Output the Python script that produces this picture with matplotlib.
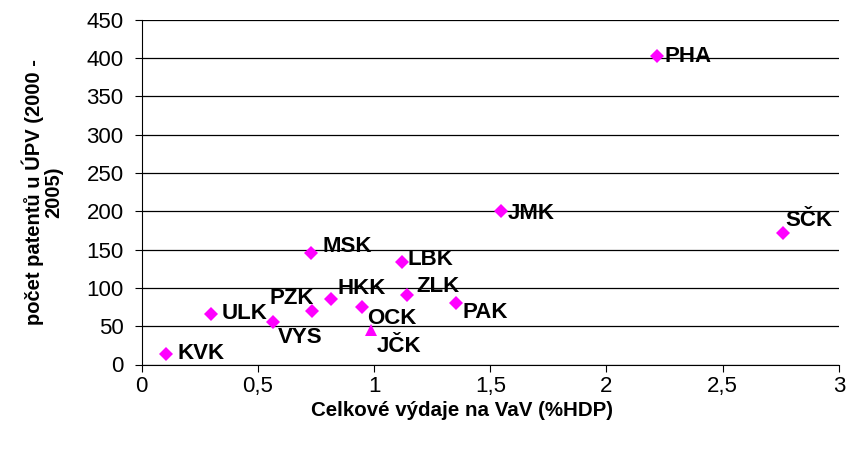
import matplotlib.pyplot as plt
from matplotlib.ticker import FuncFormatter

plt.rcParams['font.family'] = ['Liberation Sans', 'DejaVu Sans']

# regions: R&D spending (% GDP) vs. patents at UPV 2000-2005
regions = ['KVK', 'ULK', 'VYS', 'PZK', 'MSK', 'HKK', 'OCK', 'JČK',
           'LBK', 'ZLK', 'PAK', 'JMK', 'PHA', 'SČK']
vav = [0.104, 0.297, 0.563, 0.734, 0.73, 0.816, 0.948, 0.987,
       1.12, 1.141, 1.351, 1.544, 2.217, 2.76]
patents = [13.5, 66, 55.5, 70, 146, 86, 75, 45,
           134, 91, 80.5, 200, 403, 172]

# label offsets in points (dx, dy, ha)
offsets = {'KVK': (8, 0.5, 'left'), 'ULK': (8, 0, 'left'), 'VYS': (4, -11.5, 'left'),
           'PZK': (1, 9, 'right'), 'MSK': (8, 4.3, 'left'), 'HKK': (4.3, 7, 'left'),
           'OCK': (3.6, -8, 'left'), 'JČK': (4.3, -11.5, 'left'), 'LBK': (3.6, 2, 'left'),
           'ZLK': (6.5, 5.8, 'left'), 'PAK': (5, -7, 'left'), 'JMK': (5, -1.4, 'left'),
           'PHA': (5.8, -0.7, 'left'), 'SČK': (2, 8.6, 'left')}

fig = plt.figure(figsize=(8.49, 4.5), dpi=100)
ax = fig.add_axes([0.167, 0.190, 0.821, 0.766])

for name, x, y in zip(regions, vav, patents):
    m = '^' if name == 'JČK' else 'D'
    ax.plot(x, y, marker=m, color='#ff00ff', markersize=7 if m == 'D' else 8,
            markeredgewidth=0, linestyle='none', zorder=3)
    dx, dy, ha = offsets[name]
    ax.annotate(name, (x, y), xytext=(dx, dy), textcoords='offset points',
                ha=ha, va='center', fontsize=16, fontweight='bold')

ax.set_xlim(0, 3)
ax.set_ylim(0, 450)
ax.set_xticks([0, 0.5, 1, 1.5, 2, 2.5, 3])
ax.set_yticks(range(0, 451, 50))
ax.xaxis.set_major_formatter(FuncFormatter(lambda v, p: ('%g' % v).replace('.', ',')))
ax.yaxis.grid(True, color='black', linewidth=0.9)
ax.set_axisbelow(True)
for s in ['top', 'right']:
    ax.spines[s].set_visible(False)
ax.tick_params(direction='out', length=5, labelsize=16, color='black')
ax.tick_params(axis='y', pad=8)
ax.tick_params(axis='x', pad=3)

ax.set_xlabel('Celkové výdaje na VaV (%HDP)', fontsize=14.8, fontweight='bold')
ax.xaxis.set_label_coords(0.459, -0.106)
ax.set_ylabel('počet patentů u ÚPV (2000 -\n2005)', fontsize=14.5, fontweight='bold',
              linespacing=1.0)
ax.yaxis.set_label_coords(-0.113, 0.5)

fig.savefig('out.png', dpi=100)
